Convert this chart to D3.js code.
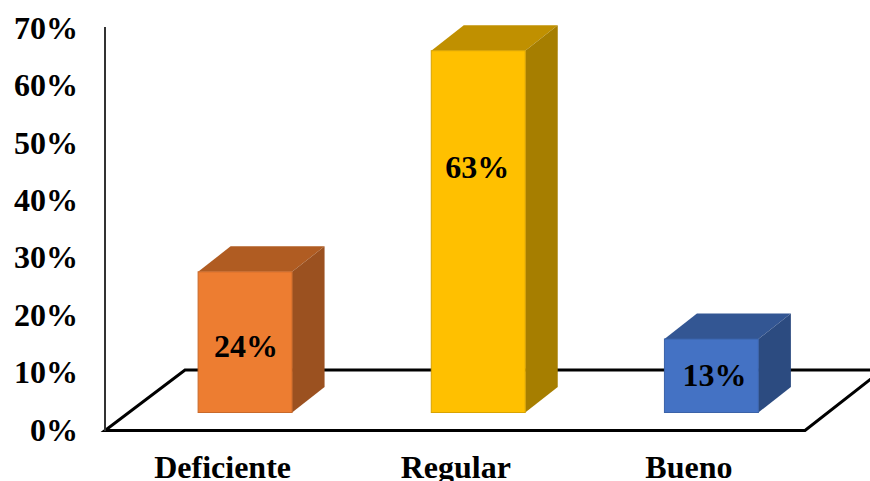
<!DOCTYPE html>
<html><head><meta charset="utf-8">
<style>html,body{margin:0;padding:0;background:#fff;overflow:hidden}svg{display:block}text{font-family:"Liberation Serif",serif;font-weight:bold;fill:#000}</style>
<script src="https://cdn.jsdelivr.net/npm/d3@7"></script></head><body>
<svg id="c" width="870" height="481"></svg>
<script>
const categories = ["Deficiente", "Regular", "Bueno"];
const values = [24.5, 63, 12.8];
const labels = ["24%", "63%", "13%"];
const frontColors = ["#ED7D31", "#FFC000", "#4472C4"];
const topColors = ["#B05C22", "#C09000", "#335693"];
const sideColors = ["#9B5120", "#A67E00", "#2C4B80"];
const edgeColors = ["#C9692A", "#D9A300", "#3A62A8"];
const tickValues = [0, 10, 20, 30, 40, 50, 60, 70];

const labelAt = [0.398, 0.648, 0.363];
const labelShift = [1, -1, 3];

const svg = d3.select("#c");
const x = d3.scaleBand().domain(categories).range([128.5, 828]);
const y = d3.scaleLinear().domain([0, 70]).range([430, 28]);
const barW = x.bandwidth() * 0.403, dx = 32.5, dy = 25.5;
const base = 412.5, h = v => y(0) - y(v);

// floor
const floor = d3.path();
floor.moveTo(940, 325); floor.lineTo(805, 430.5); floor.lineTo(105, 430.5); floor.lineTo(185, 370); floor.lineTo(870, 370);
svg.append("path").attr("d", floor.toString()).attr("fill", "none").attr("stroke", "#000").attr("stroke-width", 3);

// value axis
const axis = d3.axisLeft(y).tickValues(tickValues).tickSize(0).tickPadding(0).tickFormat(d => d + "%");
const gA = svg.append("g").attr("transform", "translate(78,0)").call(axis);
gA.select(".domain").remove();
gA.selectAll("text").style("font-size", "32px").attr("font-family", null);
svg.append("line").attr("x1", 105).attr("x2", 105).attr("y1", 27).attr("y2", 431).attr("stroke", "#333").attr("stroke-width", 2);

// bars
const bars = svg.selectAll("g.bar").data(categories).join("g").attr("class", "bar");
const poly = pts => pts.map(p => p.join(",")).join(" ");
const X0 = d => x(d) + (x.bandwidth() - barW) / 2;
bars.append("polygon").attr("points", (d, i) => {
  const a = X0(d), t = base - h(values[i]);
  return poly([[a, t], [a + barW, t], [a + barW + dx, t - dy], [a + dx, t - dy]]);
}).attr("fill", (d, i) => topColors[i]);
bars.append("polygon").attr("points", (d, i) => {
  const a = X0(d) + barW, t = base - h(values[i]);
  return poly([[a, t], [a + dx, t - dy], [a + dx, base - dy], [a, base]]);
}).attr("fill", (d, i) => sideColors[i]);
bars.append("rect").attr("x", X0).attr("y", (d, i) => base - h(values[i]))
  .attr("width", barW).attr("height", (d, i) => h(values[i]))
  .attr("fill", (d, i) => frontColors[i]).attr("stroke", (d, i) => edgeColors[i]).attr("stroke-width", 1);

// value labels
bars.append("text").attr("x", (d, i) => x(d) + x.bandwidth() / 2 + labelShift[i]).attr("y", (d, i) => base - h(values[i]) * labelAt[i])
  .attr("text-anchor", "middle").style("font-size", "32px").text((d, i) => labels[i]);

// categories
svg.selectAll("text.cat").data(categories).join("text").attr("class", "cat")
  .attr("x", d => x(d) + x.bandwidth() / 2 - 22.5).attr("y", 477.5)
  .attr("text-anchor", "middle").style("font-size", "32px").text(d => d);
</script></body></html>
